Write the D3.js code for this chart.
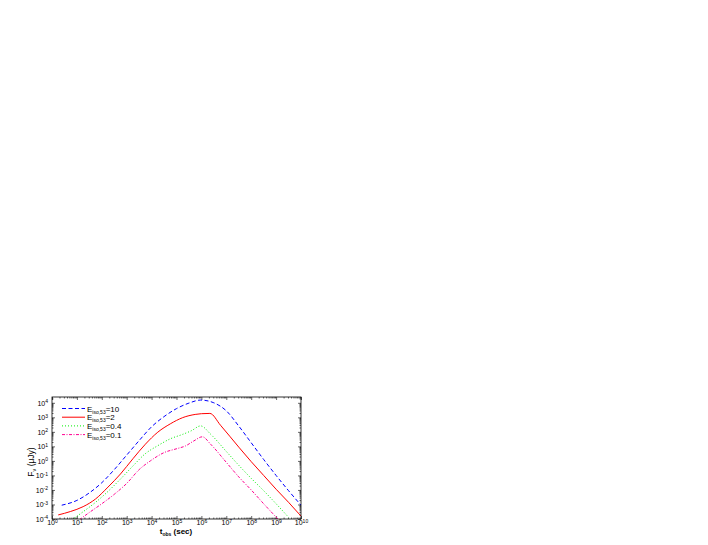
<!DOCTYPE html>
<html>
<head>
<meta charset="utf-8">
<script src="https://cdnjs.cloudflare.com/ajax/libs/d3/7.8.5/d3.min.js"></script>
<style>
body { margin: 0; background: #fff; }
svg { display: block; font-family: Arial, "Liberation Sans", sans-serif; }
</style>
</head>
<body>
<div id="chart"></div>
<script>
// decade exponents for the tick labels
var xDecades = [0, 1, 2, 3, 4, 5, 6, 7, 8, 9, 10];
var yDecades = [-4, -3, -2, -1, 0, 1, 2, 3, 4];

// legend labels (E_iso,53 values)
var energies = ["10", "2", "0.4", "0.1"];

// curves as [log10 t, log10 F]
var curveE10 = [[0.39,-3.05],[1.0,-2.72],[1.5,-2.2],[2.0,-1.5],[2.5,-0.6],[3.0,0.4],[3.5,1.4],[4.0,2.35],
    [4.5,3.05],[5.0,3.6],[5.5,3.98],[5.97,4.19],[6.5,4.0],[7.0,3.45],[7.5,2.4],[8.0,1.25],[8.5,0.1],
    [9.0,-1.0],[9.5,-2.05],[10.0,-3.05]];
var curveE2 = [[0.25,-3.72],[0.75,-3.48],[1.25,-3.15],[1.75,-2.62],[2.25,-1.8],[2.75,-0.9],[3.25,0.15],
    [3.75,1.15],[4.25,1.98],[4.75,2.55],[5.25,2.98],[5.75,3.2],[6.0,3.25],[6.34,3.27],[6.77,2.45],
    [7.5,0.95],[8.0,-0.05],[8.5,-1.0],[9.0,-1.95],[9.5,-2.85],[10.0,-3.8]];
var curveE04 = [[0.8,-4.05],[1.25,-3.5],[1.75,-2.85],[2.25,-2.1],[2.75,-1.25],[3.25,-0.35],[3.75,0.5],
    [4.25,1.05],[4.75,1.52],[5.25,1.83],[5.6,2.08],[5.97,2.41],[6.37,1.84],[7.0,0.65],[7.5,-0.3],
    [8.0,-1.2],[8.5,-2.05],[9.0,-2.95],[9.5,-3.88]];
var curveE01 = [[1.1,-4.05],[1.5,-3.55],[2.0,-2.95],[2.5,-2.3],[3.0,-1.55],[3.5,-0.6],[3.95,0.0],
    [4.5,0.57],[5.03,0.85],[5.36,1.03],[5.7,1.38],[6.04,1.66],[6.37,1.15],[7.0,-0.1],[7.5,-1.1],
    [8.0,-2.0],[8.5,-2.95],[9.1,-4.05]];

var curves = [curveE10, curveE2, curveE04, curveE01];
var colors = ["#0000ff", "#ff0000", "#00ee00", "#ff0090"];
var dashes = ["4,2.5", null, "1,2", "3,1.5,1,1.5"];

var plot = { left: 52, right: 301, top: 397, bottom: 519 };

var svg = d3.select("#chart")
    .append("svg")
    .attr("width", 708)
    .attr("height", 545);

svg.append("rect")
    .attr("width", 708)
    .attr("height", 545)
    .attr("fill", "#fff");

var x = d3.scaleLog()
    .domain([1, 1e10])
    .range([plot.left, plot.right]);

var y = d3.scaleLog()
    .domain([1e-4, Math.pow(10, 4.4)])
    .range([plot.bottom, plot.top]);

// major ticks at the decades, minor ticks at 2..9 inside each decade
var xMajor = xDecades.map(function(e) { return Math.pow(10, e); });
var yMajor = yDecades.map(function(e) { return Math.pow(10, e); });
function minorTicks(scale) {
    var dom = scale.domain(), out = [];
    for (var e = Math.floor(Math.log10(dom[0])); e <= Math.ceil(Math.log10(dom[1])); e++) {
        for (var k = 2; k <= 9; k++) {
            var v = k * Math.pow(10, e);
            if (v >= dom[0] && v <= dom[1]) out.push(v);
        }
    }
    return out;
}
var xMinor = minorTicks(x);
var yMinor = minorTicks(y);

// replace a plain tick label with 10 + superscript exponent
function powerLabels(g) {
    g.selectAll(".tick text").each(function(d) {
        var t = d3.select(this).text("");
        t.append("tspan").text("10");
        t.append("tspan")
            .attr("dy", "-0.5em")
            .attr("font-size", "5px")
            .text(Math.round(Math.log10(d)));
    });
}

function styleAxis(g) {
    g.select(".domain").remove();
    g.selectAll(".tick line").attr("stroke", "#000").attr("stroke-width", 0.6);
    g.selectAll(".tick text").attr("fill", "#000").attr("font-size", "7px");
}

// bottom
svg.append("g")
    .attr("transform", "translate(0," + plot.bottom + ")")
    .call(d3.axisBottom(x).tickValues(xMajor).tickSize(-3).tickPadding(1.5))
    .call(styleAxis)
    .call(powerLabels);
svg.append("g")
    .attr("transform", "translate(0," + plot.bottom + ")")
    .call(d3.axisBottom(x).tickValues(xMinor).tickSize(-1.5).tickFormat(""))
    .call(styleAxis);
// top
svg.append("g")
    .attr("transform", "translate(0," + plot.top + ")")
    .call(d3.axisTop(x).tickValues(xMajor).tickSize(-3).tickFormat(""))
    .call(styleAxis);
svg.append("g")
    .attr("transform", "translate(0," + plot.top + ")")
    .call(d3.axisTop(x).tickValues(xMinor).tickSize(-1.5).tickFormat(""))
    .call(styleAxis);
// left
svg.append("g")
    .attr("transform", "translate(" + plot.left + ",0)")
    .call(d3.axisLeft(y).tickValues(yMajor).tickSize(-3).tickPadding(4))
    .call(styleAxis)
    .call(powerLabels);
svg.append("g")
    .attr("transform", "translate(" + plot.left + ",0)")
    .call(d3.axisLeft(y).tickValues(yMinor).tickSize(-1.5).tickFormat(""))
    .call(styleAxis);
// right
svg.append("g")
    .attr("transform", "translate(" + plot.right + ",0)")
    .call(d3.axisRight(y).tickValues(yMajor).tickSize(-3).tickFormat(""))
    .call(styleAxis);
svg.append("g")
    .attr("transform", "translate(" + plot.right + ",0)")
    .call(d3.axisRight(y).tickValues(yMinor).tickSize(-1.5).tickFormat(""))
    .call(styleAxis);

svg.append("clipPath")
    .attr("id", "clip")
    .append("rect")
    .attr("x", plot.left)
    .attr("y", plot.top)
    .attr("width", plot.right - plot.left)
    .attr("height", plot.bottom - plot.top);

var line = d3.line()
    .x(function(d) { return x(Math.pow(10, d[0])); })
    .y(function(d) { return y(Math.pow(10, d[1])); })
    .curve(d3.curveMonotoneX);

svg.append("g")
    .attr("clip-path", "url(#clip)")
    .selectAll("path")
    .data(curves)
    .enter()
    .append("path")
    .attr("d", line)
    .attr("fill", "none")
    .attr("stroke", function(d, i) { return colors[i]; })
    .attr("stroke-width", 1)
    .attr("stroke-dasharray", function(d, i) { return dashes[i]; });

// frame
svg.append("rect")
    .attr("x", plot.left)
    .attr("y", plot.top)
    .attr("width", plot.right - plot.left)
    .attr("height", plot.bottom - plot.top)
    .attr("fill", "none")
    .attr("stroke", "#000")
    .attr("stroke-width", 0.8);

// legend
var legend = svg.append("g")
    .selectAll("g")
    .data(energies)
    .enter()
    .append("g")
    .attr("transform", function(d, i) { return "translate(62," + (408.5 + i * 8.7) + ")"; });

legend.append("line")
    .attr("x1", 0)
    .attr("x2", 23)
    .attr("stroke", function(d, i) { return colors[i]; })
    .attr("stroke-width", 1)
    .attr("stroke-dasharray", function(d, i) { return dashes[i]; });

var legendText = legend.append("text")
    .attr("x", 25)
    .attr("y", 3)
    .attr("font-size", "8px");
legendText.append("tspan").text("E");
legendText.append("tspan").attr("dy", 2).attr("font-size", "5px").text("iso,53");
legendText.append("tspan").attr("dy", -2).text(function(d) { return "=" + d; });

// axis titles
var xTitle = svg.append("text")
    .attr("x", 176)
    .attr("y", 533.5)
    .attr("text-anchor", "middle")
    .attr("font-size", "8px")
    .attr("font-weight", "bold");
xTitle.append("tspan").text("t");
xTitle.append("tspan").attr("dy", 2).attr("font-size", "5px").text("obs");
xTitle.append("tspan").attr("dy", -2).text(" (sec)");

var yTitle = svg.append("text")
    .attr("transform", "translate(34,462) rotate(-90)")
    .attr("text-anchor", "middle")
    .attr("font-size", "8.5px");
yTitle.append("tspan").text("F");
yTitle.append("tspan").attr("dy", 2).attr("font-size", "5.5px").text("ν");
yTitle.append("tspan").attr("dy", -2).text(" (μJy)");
</script>
</body>
</html>
